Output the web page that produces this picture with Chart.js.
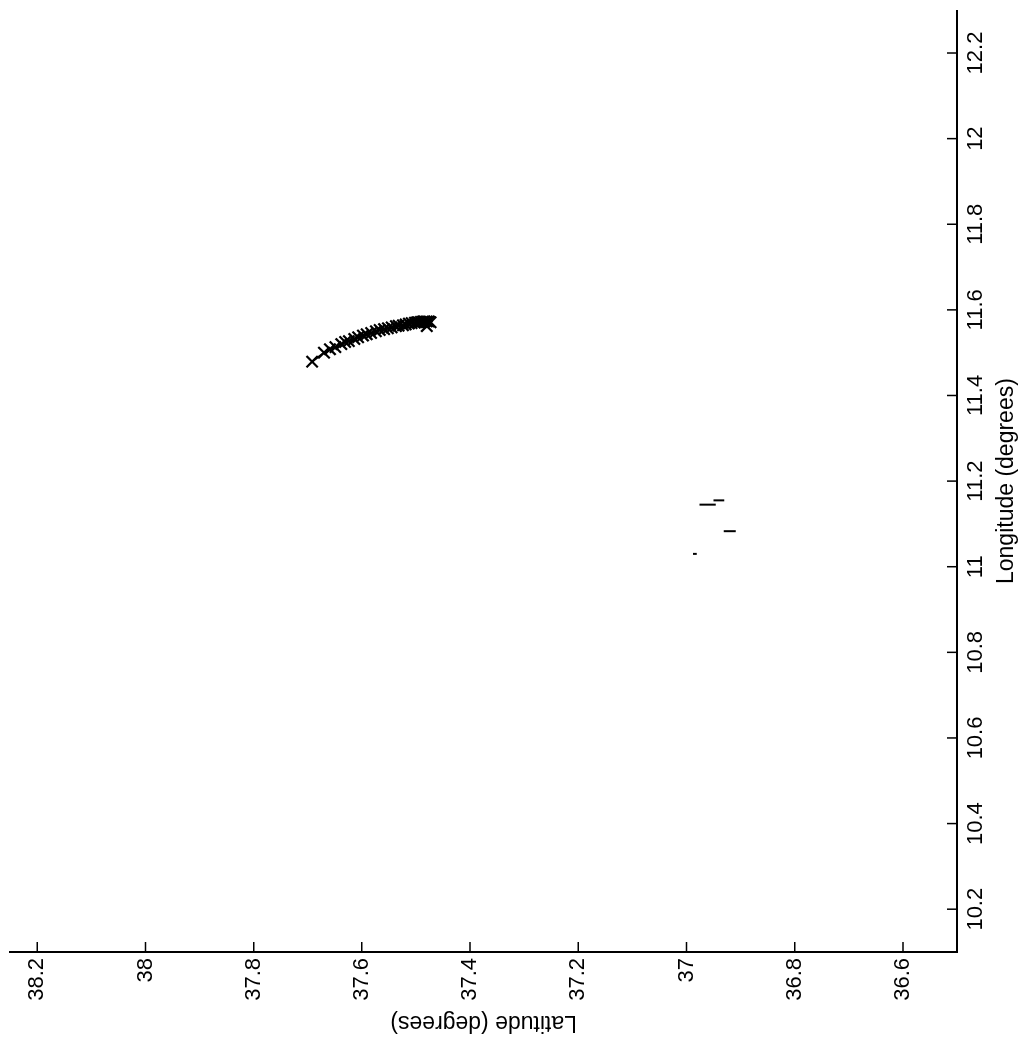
<!DOCTYPE html>
<html>
<head>
<meta charset="utf-8">
<script src="https://cdn.jsdelivr.net/npm/chart.js@4"></script>
<style>
html, body { margin: 0; padding: 0; background: #fff; overflow: hidden; }
/* the figure is a scan turned a quarter turn, so draw it upright and turn the canvas */
#wrap { position: absolute; left: 0; top: 0; width: 1040px; height: 1024px;
        transform-origin: 0 0; transform: translateY(1040px) rotate(-90deg); }
</style>
</head>
<body>
<div id="wrap"><canvas id="track_chart" width="1040" height="1024"></canvas></div>
<script>
//DATA
const lonTicks = [10.2, 10.4, 10.6, 10.8, 11, 11.2, 11.4, 11.6, 11.8, 12, 12.2];
const latTicks = [36.6, 36.8, 37, 37.2, 37.4, 37.6, 37.8, 38, 38.2];

// main track (x markers)
const trackLon = [11.479, 11.500, 11.508, 11.513, 11.520, 11.525, 11.527, 11.532, 11.536, 11.540,
                  11.543, 11.546, 11.550, 11.553, 11.555, 11.557, 11.559, 11.562, 11.563, 11.564,
                  11.566, 11.568, 11.569, 11.570, 11.571, 11.571, 11.572, 11.573, 11.573, 11.573,
                  11.573, 11.571, 11.562];
const trackLat = [37.692, 37.670, 37.659, 37.649, 37.638, 37.631, 37.624, 37.614, 37.607, 37.598,
                  37.591, 37.583, 37.574, 37.567, 37.559, 37.552, 37.545, 37.537, 37.532, 37.524,
                  37.519, 37.513, 37.508, 37.502, 37.498, 37.495, 37.491, 37.487, 37.484, 37.480,
                  37.476, 37.473, 37.480];

// short fragments near 11.1 E
const segLon = [[11.145, 11.145], [11.155, 11.155], [11.083, 11.083], [11.030, 11.030]];
const segLat = [[36.976, 36.946], [36.950, 36.930], [36.931, 36.909], [36.988, 36.981]];

const FONT = "'Liberation Sans', Arial, Helvetica, sans-serif";
const ctx = document.getElementById("track_chart").getContext("2d");

function toPoints(lons, lats) {
  return lons.map((v, i) => ({ x: v, y: lats[i] }));
}

let datasets = [
  {
    label: "Track",
    data: toPoints(trackLon, trackLat),
    showLine: true,
    borderColor: "#000",
    backgroundColor: "#000",
    borderWidth: 2,
    pointStyle: "crossRot",
    pointRadius: 8,
    pointBorderWidth: 2.2,
  },
];
segLon.forEach((lons, i) => {
  datasets.push({
    label: "Fragment " + (i + 1),
    data: toPoints(lons, segLat[i]),
    showLine: true,
    borderColor: "#000",
    borderWidth: 2,
    pointRadius: 0,
  });
});

// MATLAB style ticks pointing into the plot
const innerTicks = {
  id: "innerTicks",
  afterDatasetsDraw(chart) {
    const { ctx, chartArea, scales } = chart;
    ctx.save();
    ctx.strokeStyle = "#000";
    ctx.lineWidth = 1.5;
    ctx.beginPath();
    lonTicks.forEach(v => {
      const px = scales.x.getPixelForValue(v);
      ctx.moveTo(px, chartArea.bottom);
      ctx.lineTo(px, chartArea.bottom - 10);
    });
    latTicks.forEach(v => {
      const py = scales.y.getPixelForValue(v);
      ctx.moveTo(chartArea.left, py);
      ctx.lineTo(chartArea.left + 10, py);
    });
    ctx.stroke();
    ctx.restore();
  },
};

const fmt = v => String(+Number(v).toFixed(1));

new Chart(ctx, {
  type: "scatter",
  data: { datasets: datasets },
  options: {
    responsive: false,
    animation: false,
    layout: { padding: { top: 10, right: 0, bottom: 0, left: 0 } },
    plugins: { legend: { display: false }, tooltip: { enabled: false } },
    scales: {
      x: {
        type: "linear",
        position: "bottom",
        min: 10.1,
        max: 12.3,
        afterBuildTicks: s => { s.ticks = lonTicks.map(v => ({ value: v })); },
        afterFit: s => { s.height = 67; s.paddingLeft = 0; s.paddingRight = 0; },
        grid: { display: false, drawTicks: false },
        border: { display: true, color: "#000", width: 2 },
        ticks: { color: "#000", font: { family: FONT, size: 22 }, padding: 6,
                 maxRotation: 0, autoSkip: false, callback: fmt },
        title: { display: true, text: "Longitude (degrees)", color: "#000",
                 font: { family: FONT, size: 23 }, padding: { top: 0, bottom: 4 } },
      },
      y: {
        type: "linear",
        position: "left",
        min: 36.5,
        max: 38.25,
        afterBuildTicks: s => { s.ticks = latTicks.map(v => ({ value: v })); },
        afterFit: s => { s.width = 88; s.paddingTop = 0; s.paddingBottom = 0; },
        grid: { display: false, drawTicks: false },
        border: { display: true, color: "#000", width: 2 },
        ticks: { color: "#000", font: { family: FONT, size: 22 }, padding: 6,
                 autoSkip: false, callback: fmt },
        title: { display: true, text: "Latitude (degrees)", color: "#000",
                 font: { family: FONT, size: 23 }, padding: { top: 4, bottom: 0 } },
      },
    },
  },
  plugins: [innerTicks],
});
</script>
</body>
</html>
